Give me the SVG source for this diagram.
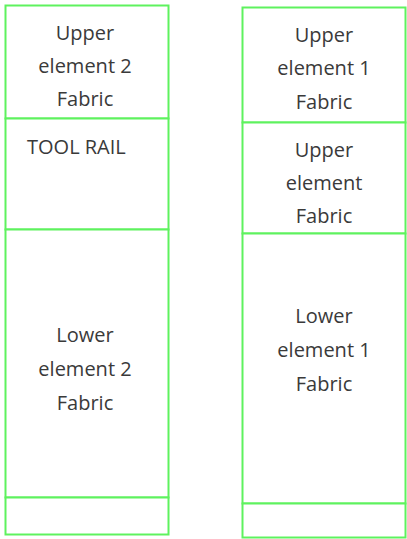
<svg xmlns="http://www.w3.org/2000/svg" width="407" height="539" viewBox="0 0 407 539">
<style>
.box{fill:#ffffff;stroke:#5ef25e;stroke-width:2}
.t{font-family:"Open Sans","Liberation Sans",sans-serif;font-size:20px;fill:#3a3a3a;text-anchor:middle}
.tl{font-family:"Open Sans","Liberation Sans",sans-serif;font-size:20px;fill:#3a3a3a}
</style>
<rect width="407" height="539" fill="#ffffff"/>
<g id="left-column">
<g id="upper-element-2">
<rect class="box" x="5.5" y="5.5" width="163" height="113"/>
<text class="t" x="85" y="40">Upper</text>
<text class="t" x="85" y="73">element 2</text>
<text class="t" x="85" y="106">Fabric</text>
</g>
<g id="tool-rail">
<rect class="box" x="5.5" y="118.5" width="163" height="111"/>
<text class="tl" x="27" y="154">TOOL RAIL</text>
</g>
<g id="lower-element-2">
<rect class="box" x="5.5" y="229.5" width="163" height="268"/>
<text class="t" x="85" y="342">Lower</text>
<text class="t" x="85" y="376">element 2</text>
<text class="t" x="85" y="410">Fabric</text>
</g>
<g id="left-base">
<rect class="box" x="5.5" y="497.5" width="163" height="37"/>
</g>
</g>
<g id="right-column">
<g id="upper-element-1">
<rect class="box" x="242.5" y="7.5" width="163" height="115"/>
<text class="t" x="324" y="42">Upper</text>
<text class="t" x="324" y="75">element 1</text>
<text class="t" x="324" y="109">Fabric</text>
</g>
<g id="upper-element">
<rect class="box" x="242.5" y="122.5" width="163" height="111"/>
<text class="t" x="324" y="157">Upper</text>
<text class="t" x="324" y="190">element</text>
<text class="t" x="324" y="223">Fabric</text>
</g>
<g id="lower-element-1">
<rect class="box" x="242.5" y="233.5" width="163" height="270"/>
<text class="t" x="324" y="323">Lower</text>
<text class="t" x="324" y="357">element 1</text>
<text class="t" x="324" y="391">Fabric</text>
</g>
<g id="right-base">
<rect class="box" x="242.5" y="503.5" width="163" height="34"/>
</g>
</g>
<g id="connectors"></g>
</svg>
